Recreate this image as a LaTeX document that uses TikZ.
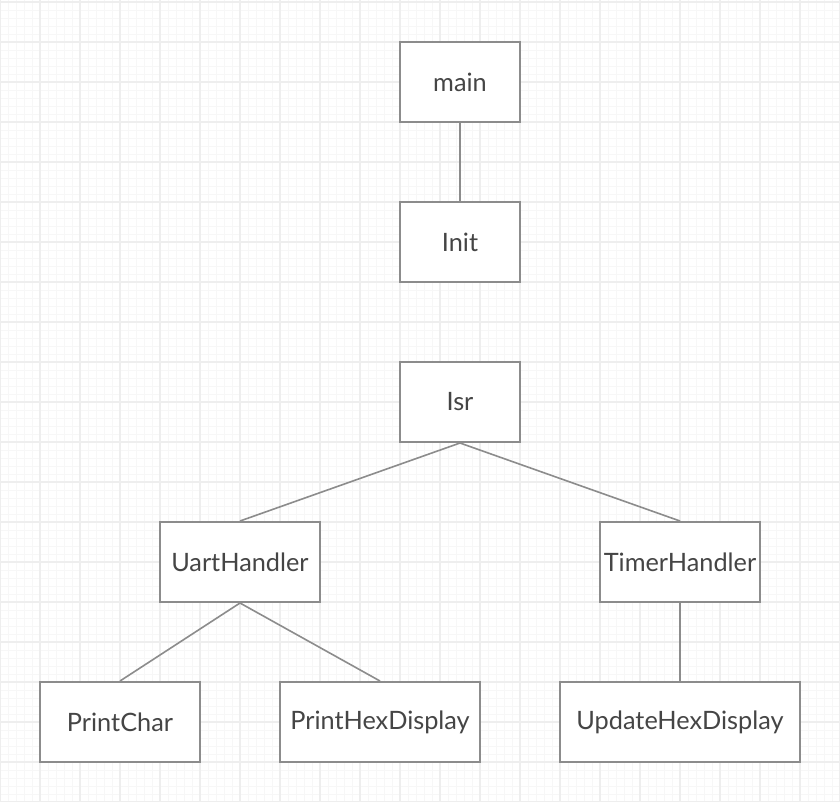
\documentclass[tikz,border=0pt]{standalone}
\usepackage{fontspec}
\setmainfont{Lato}
\definecolor{minorgrid}{HTML}{F7F7F7}
\definecolor{majorgrid}{HTML}{EEEEEE}
\definecolor{boxline}{HTML}{8C8C8C}
\definecolor{txt}{HTML}{454545}
\tikzset{
  fnbox/.style={draw=boxline, line width=2pt, fill=white, rectangle, inner sep=0pt,
    minimum height=80pt, text=txt, font=\fontsize{25.3}{30}\selectfont},
  conn/.style={draw=boxline, line width=1.6pt},
}
\newcommand{\lbl}[1]{\raisebox{-1.5pt}{#1}}
\begin{document}
\begin{tikzpicture}[x=1pt,y=-1pt]
\useasboundingbox (0,0) rectangle (840,801);
\fill[white] (0,0) rectangle (840,801);
% minor grid
\foreach \i in {0,8,...,840} \draw[minorgrid, line width=1pt] (\i,0) -- (\i,801);
\foreach \j in {2,10,...,802} \draw[minorgrid, line width=1pt] (0,\j) -- (840,\j);
% major grid
\foreach \i in {0,40,...,840} \draw[majorgrid, line width=1.5pt] (\i,0) -- (\i,801);
\foreach \j in {2,42,...,802} \draw[majorgrid, line width=1.5pt] (0,\j) -- (840,\j);
% nodes
\node[fnbox, minimum width=120pt] (main) at (460,82) {\lbl{main}};
\node[fnbox, minimum width=120pt] (init) at (460,242) {\lbl{Init}};
\node[fnbox, minimum width=120pt] (isr) at (460,402) {\lbl{Isr}};
\node[fnbox, minimum width=160pt] (uart) at (240,562) {\lbl{UartHandler}};
\node[fnbox, minimum width=160pt] (timer) at (680,562) {\lbl{TimerHandler}};
\node[fnbox, minimum width=160pt] (pchar) at (120,722) {\lbl{PrintChar}};
\node[fnbox, minimum width=200pt] (phex) at (380,722) {\lbl{PrintHexDisplay}};
\node[fnbox, minimum width=240pt] (uhex) at (680,722) {\lbl{UpdateHexDisplay}};
% connectors
\draw[conn] (main.south) -- (init.north);
\draw[conn] (isr.south) -- (uart.north);
\draw[conn] (isr.south) -- (timer.north);
\draw[conn] (uart.south) -- (pchar.north);
\draw[conn] (uart.south) -- (phex.north);
\draw[conn] (timer.south) -- (uhex.north);
\end{tikzpicture}
\end{document}
